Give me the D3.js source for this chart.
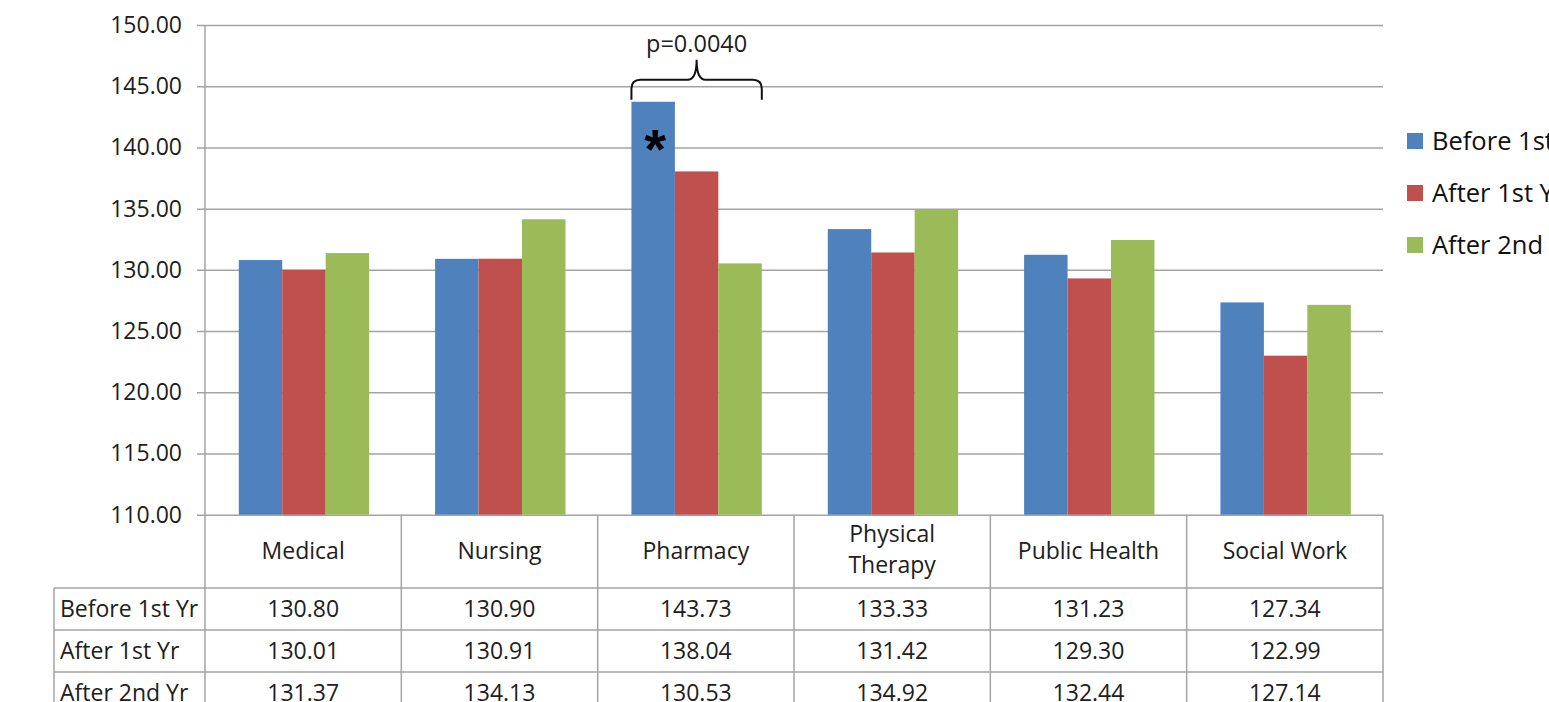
<!DOCTYPE html>
<html>
<head>
<meta charset="utf-8">
<script src="https://cdn.jsdelivr.net/npm/d3@7/dist/d3.min.js"></script>
<style>
  html, body { margin: 0; padding: 0; background: #ffffff; }
  svg { display: block; font-family: "Open Sans", Lato, "Liberation Sans", sans-serif; }
</style>
</head>
<body>
<svg id="chart" width="1549" height="702"></svg>
<script>
// Programs and survey waves
const categories = ["Medical", "Nursing", "Pharmacy", "Physical Therapy", "Public Health", "Social Work"];
const seriesNames = ["Before 1st Yr", "After 1st Yr", "After 2nd Yr"];
const beforeFirst = [130.80, 130.90, 143.73, 133.33, 131.23, 127.34];
const afterFirst  = [130.01, 130.91, 138.04, 131.42, 129.30, 122.99];
const afterSecond = [131.37, 134.13, 130.53, 134.92, 132.44, 127.14];
const yTicks = [110, 115, 120, 125, 130, 135, 140, 145, 150];
const pLabel = "p=0.0040";
const flagged = "Pharmacy";

const seriesValues = [beforeFirst, afterFirst, afterSecond];
const colors = ["#4F81BD", "#C0504D", "#9BBB59"];
const gridColor = "#a3a3a3";
const textColor = "#202020";
const font = "'Open Sans', Lato, 'Liberation Sans', sans-serif";

const svg = d3.select("#chart");

const plot = { left: 205, right: 1383, top: 25, bottom: 514.7 };
const tableLeft = 54;
const headerBottom = 588;
const rowH = 42;

const x = d3.scaleBand().domain(categories).range([plot.left, plot.right]).padding(0);
const bw = x.bandwidth();
const xs = d3.scaleBand().domain(seriesNames).range([bw * 0.172, bw * 0.836]).padding(0);
const y = d3.scaleLinear().domain([110, 150]).range([plot.bottom, plot.top]);

// gridlines with short outside ticks
const grid = svg.append("g").attr("transform", `translate(${plot.left - 8},0)`)
  .call(d3.axisRight(y).tickValues(yTicks).tickSize(plot.right - plot.left + 8).tickFormat(""));
grid.select(".domain").remove();
grid.selectAll(".tick line").attr("stroke", gridColor).attr("stroke-width", 1.5);

// y labels
const yAxis = svg.append("g").attr("transform", `translate(${plot.left - 8},0)`)
  .call(d3.axisLeft(y).tickValues(yTicks).tickSize(0).tickPadding(15).tickFormat(d3.format(".2f")));
yAxis.select(".domain").remove();
yAxis.selectAll("text").attr("fill", textColor).style("font-size", "23px").style("font-family", font);

// bars
const rows = categories.map((c, i) => ({ cat: c, vals: seriesNames.map((s, k) => ({ s, k, v: seriesValues[k][i] })) }));
const groups = svg.append("g").selectAll("g").data(rows).join("g")
  .attr("transform", d => `translate(${x(d.cat)},0)`);
groups.selectAll("rect").data(d => d.vals).join("rect")
  .attr("x", d => xs(d.s))
  .attr("width", xs.bandwidth())
  .attr("y", d => y(d.v))
  .attr("height", d => y(110) - y(d.v))
  .attr("fill", d => colors[d.k]);

// vertical axis line
svg.append("line").attr("x1", plot.left).attr("x2", plot.left)
  .attr("y1", plot.top).attr("y2", 702)
  .attr("stroke", gridColor).attr("stroke-width", 1.5);

// data table
const tbl = svg.append("g");
const colEdges = categories.map(c => x(c) + bw);
colEdges.forEach(cx => {
  tbl.append("line").attr("x1", cx).attr("x2", cx).attr("y1", plot.bottom).attr("y2", 702)
    .attr("stroke", gridColor).attr("stroke-width", 1.5);
});
tbl.append("line").attr("x1", tableLeft).attr("x2", tableLeft).attr("y1", headerBottom).attr("y2", 702)
  .attr("stroke", gridColor).attr("stroke-width", 1.5);
[0, 1, 2].forEach(r => {
  const yy = headerBottom + r * rowH;
  tbl.append("line").attr("x1", tableLeft).attr("x2", plot.right).attr("y1", yy).attr("y2", yy)
    .attr("stroke", gridColor).attr("stroke-width", 1.5);
});

// category headers
categories.forEach(c => {
  const words = c.split(" ");
  const cx = x(c) + bw / 2;
  const t = tbl.append("text").attr("x", cx).attr("text-anchor", "middle")
    .attr("fill", textColor).style("font-size", "23px");
  if (c === "Physical Therapy") {
    t.append("tspan").attr("x", cx).attr("y", 542).text(words[0]);
    t.append("tspan").attr("x", cx).attr("y", 573).text(words[1]);
  } else {
    t.attr("y", 559).text(c);
  }
});

// row labels and values
seriesNames.forEach((s, k) => {
  const base = headerBottom + k * rowH + 29;
  tbl.append("text").attr("x", 60).attr("y", base).attr("fill", textColor)
    .style("font-size", "23px").text(s);
  categories.forEach((c, i) => {
    tbl.append("text").attr("x", x(c) + bw / 2).attr("y", base).attr("text-anchor", "middle")
      .attr("fill", textColor).style("font-size", "23px")
      .text(d3.format(".2f")(seriesValues[k][i]));
  });
});

// legend
const legend = svg.append("g").attr("transform", "translate(1407,133)");
seriesNames.forEach((s, k) => {
  const g = legend.append("g").attr("transform", `translate(0,${k * 52})`);
  g.append("rect").attr("width", 16).attr("height", 16).attr("fill", colors[k]);
  g.append("text").attr("x", 25).attr("y", 17).attr("fill", "#111")
    .style("font-size", "25.5px").text(s);
});

// significance brace over the flagged program
const fi = categories.indexOf(flagged);
const bx0 = x(flagged) + xs(seriesNames[0]);
const bx1 = x(flagged) + xs(seriesNames[2]) + xs.bandwidth();
const bxm = (bx0 + bx1) / 2;
const yEnd = y(beforeFirst[fi]) - 2;
const yTop = yEnd - 20;
const yPeak = yTop - 20;
const r = 9;
const brace = d3.path();
brace.moveTo(bx0, yEnd);
brace.lineTo(bx0, yTop + r);
brace.quadraticCurveTo(bx0, yTop, bx0 + r, yTop);
brace.lineTo(bxm - r, yTop);
brace.quadraticCurveTo(bxm, yTop, bxm, yPeak);
brace.quadraticCurveTo(bxm, yTop, bxm + r, yTop);
brace.lineTo(bx1 - r, yTop);
brace.quadraticCurveTo(bx1, yTop, bx1, yTop + r);
brace.lineTo(bx1, yEnd);
svg.append("path").attr("d", brace.toString()).attr("fill", "none")
  .attr("stroke", "#111").attr("stroke-width", 2);
svg.append("text").attr("x", bxm).attr("y", yPeak - 8).attr("text-anchor", "middle")
  .attr("fill", textColor).style("font-size", "23.5px").text(pLabel);

// asterisk on the flagged bar
svg.append("text")
  .attr("x", x(flagged) + xs(seriesNames[0]) + xs.bandwidth() / 2 + 2)
  .attr("y", y(beforeFirst[fi]) + 66)
  .attr("text-anchor", "middle").attr("fill", "#000")
  .style("font-size", "56px").style("font-weight", "bold")
  .style("font-family", "'Liberation Sans', sans-serif")
  .text("*");
</script>
</body>
</html>
